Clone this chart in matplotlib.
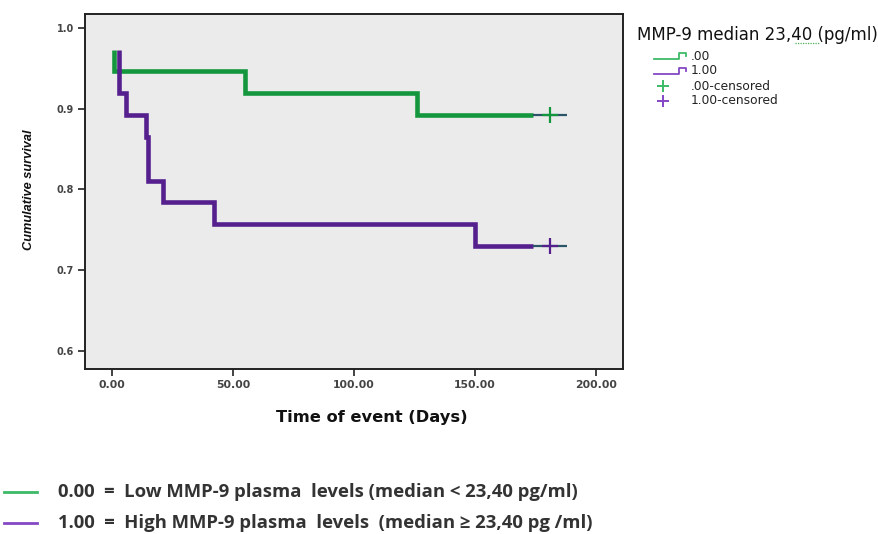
import matplotlib
matplotlib.use("Agg")
import matplotlib.pyplot as plt
from matplotlib.lines import Line2D

# ---- data ----
low_start = 1.0
low_times = [1.0, 55.0, 126.0]
low_surv = [0.946, 0.919, 0.892]
high_start = 2.9
high_times = [2.9, 5.8, 14.0, 15.0, 21.0, 42.0, 150.0]
high_surv = [0.919, 0.892, 0.865, 0.811, 0.784, 0.757, 0.730]
surv0 = 0.973
tail_thick_end = 174.0
followup_end = 188.0
censor_time = 181.0

xticks = [0, 50, 100, 150, 200]
xticklabels = ["0.00", "50.00", "100.00", "150.00", "200.00"]
yticks = [0.6, 0.7, 0.8, 0.9, 1.0]
yticklabels = ["0.6", "0.7", "0.8", "0.9", "1.0"]

legend_title = "MMP-9 median 23,40 (pg/ml)"
legend_labels = [".00", "1.00", ".00-censored", "1.00-censored"]
note_low = "0.00  =  Low MMP-9 plasma  levels (median < 23,40 pg/ml)"
note_high = "1.00  =  High MMP-9 plasma  levels  (median \u2265 23,40 pg /ml)"

GREEN = "#13963d"
PURPLE = "#55208e"
TAIL = "#2b5468"
GREEN_L = "#3dba67"
PURPLE_L = "#8448c4"
SANS = ["DejaVu Sans"]

W, H = 879, 534
fig = plt.figure(figsize=(W / 100, H / 100), dpi=100)
fig.patch.set_facecolor("white")

def fx(x):
    return x / W

def fy(y):
    return 1 - y / H

ax = fig.add_axes([fx(85), fy(369), fx(623) - fx(85), fy(13.5) - fy(369)])
ax.set_facecolor("#ebebeb")
ax.set_xlim(-11.2, 211.3)
ax.set_ylim(0.5777, 1.0178)

def draw_curve(start, times, surv, color):
    xs = [start] + times + [tail_thick_end]
    ys = [surv0] + surv + [surv[-1]]
    ax.step(xs, ys, where="post", color=color, lw=3.3, solid_joinstyle="miter",
            solid_capstyle="butt", zorder=3)
    ax.plot([tail_thick_end, followup_end], [surv[-1], surv[-1]], color=TAIL,
            lw=1.6, zorder=4, solid_capstyle="butt")
    ax.plot([censor_time], [surv[-1]], marker="+", ms=12, mew=1.6,
            color=color, zorder=5, linestyle="none")

draw_curve(low_start, low_times, low_surv, GREEN)
draw_curve(high_start, high_times, high_surv, PURPLE)

ax.set_xticks(xticks)
ax.set_xticklabels(xticklabels, fontsize=7.8, fontweight="bold", family=SANS)
ax.set_yticks(yticks)
ax.set_yticklabels(yticklabels, fontsize=7, fontweight="bold", family=SANS)
ax.tick_params(axis="both", direction="out", length=5, width=1.2, color="#222222",
               labelcolor="#444444", pad=3)
for s in ax.spines.values():
    s.set_linewidth(1.4)
    s.set_color("#222222")

ax.set_xlabel("Time of event (Days)", fontsize=11.7, fontweight="bold",
              family=SANS, color="#111111")
ax.xaxis.set_label_coords(0.533, -0.115)
ax.set_ylabel("Cumulative survival", fontsize=9.2, fontstyle="italic", fontweight="bold",
              family=["Liberation Sans Narrow", "Liberation Sans", "DejaVu Sans"],
              color="#111111")
ax.yaxis.set_label_coords(-0.093, 0.503)

# ---- legend (top right) ----
fig.text(fx(637), fy(35), legend_title, fontsize=12, va="center", ha="left",
         family=SANS, color="#111111")
fig.add_artist(Line2D([fx(795), fx(819)], [fy(42.5), fy(42.5)], color="#4caf50",
                      lw=0.9, linestyle=(0, (1, 1))))

entry_y = [56, 71, 86, 101]
cols = [GREEN_L, PURPLE_L, GREEN_L, PURPLE_L]
for i, (lab, yy, c) in enumerate(zip(legend_labels, entry_y, cols)):
    fig.text(fx(691), fy(yy), lab, fontsize=8.8, va="center", ha="left",
             family=SANS, color="#222222")
    if i < 2:
        xs = [fx(654), fx(679), fx(679), fx(686), fx(686)]
        ys = [fy(yy + 3), fy(yy + 3), fy(yy - 3), fy(yy - 3), fy(yy)]
        fig.add_artist(Line2D(xs, ys, color=c, lw=1.3))
    else:
        fig.add_artist(Line2D([fx(663)], [fy(yy)], marker="+", ms=9, mew=1.4,
                              color=c, linestyle="none"))

# ---- notes at bottom ----
fig.add_artist(Line2D([fx(4), fx(37)], [fy(492), fy(492)], color=GREEN_L, lw=2.0))
fig.add_artist(Line2D([fx(4), fx(37)], [fy(523), fy(523)], color=PURPLE_L, lw=2.0))
fig.text(fx(58), fy(492), note_low, fontsize=13.3, fontweight="bold", va="center", ha="left",
         family=["Open Sans", "DejaVu Sans"], color="#333333")
fig.text(fx(58), fy(523), note_high, fontsize=13.3, fontweight="bold", va="center", ha="left",
         family=["Open Sans", "DejaVu Sans"], color="#333333")

fig.savefig("out.png", dpi=100, facecolor="white")
